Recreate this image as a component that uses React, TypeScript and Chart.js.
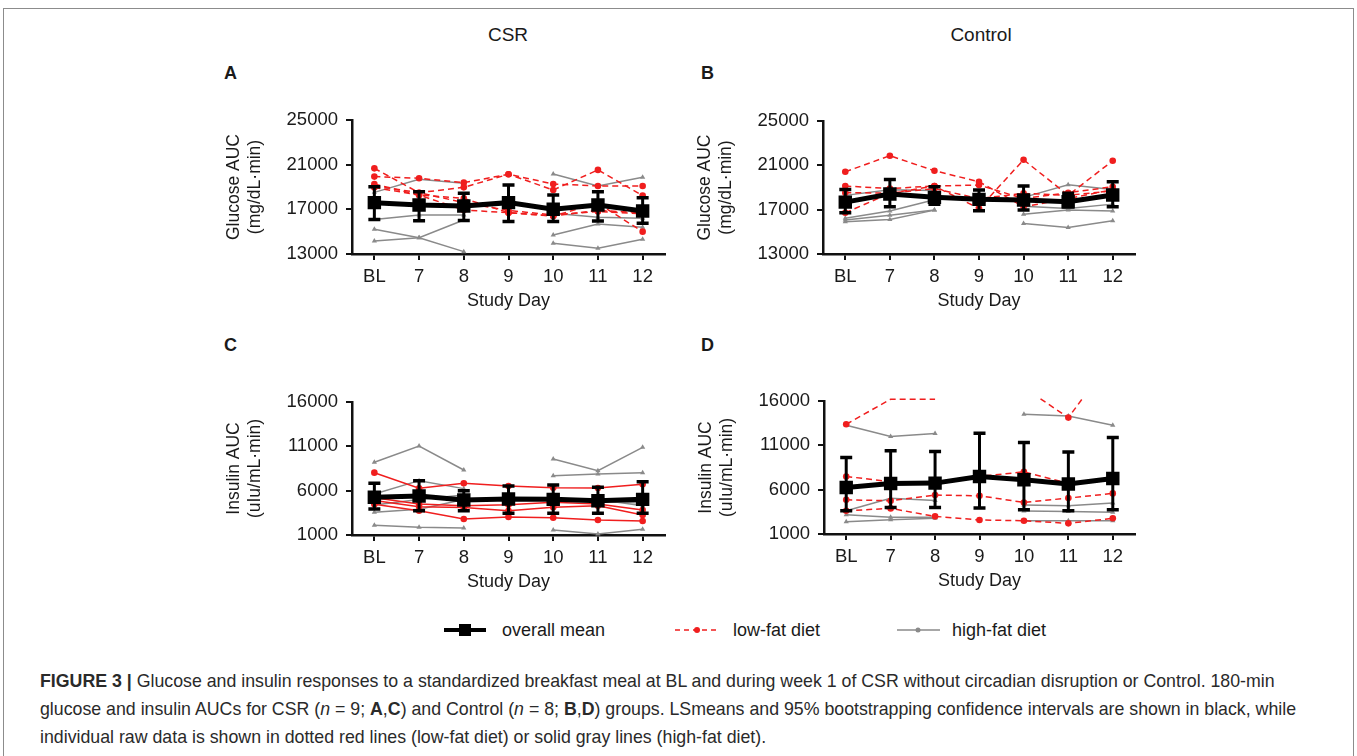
import React, { useEffect, useRef } from 'react';
import { Chart, registerables } from 'chart.js';

Chart.register(...registerables);

const FONT = '"Liberation Sans", Arial, Helvetica, sans-serif';
Chart.defaults.font.family = FONT;
Chart.defaults.color = '#1a1a1a';

const RED = '#f01e1e';
const GRAY = '#8a8a8a';
const INK = '#1a1a1a';

// ---------- shared categories / ticks ----------
const DAYS = ['BL', '7', '8', '9', '10', '11', '12'];
const GLUCOSE_TICKS = { min: 13000, max: 25000, step: 4000 };
const INSULIN_TICKS = { min: 1000, max: 16000, step: 5000 };

// ---------- Panel A: CSR glucose ----------
const csrGlucoseMean = [17600, 17390, 17300, 17600, 17000, 17390, 16850];
const csrGlucoseLower = [16100, 15980, 16000, 15900, 15900, 15960, 15750];
const csrGlucoseUpper = [19030, 18580, 18430, 19180, 18290, 18580, 18040];
const csrGlucoseLowFat1 = [20670, 18490, 18970, 20140, 18730, 20530, 18230];
const csrGlucoseLowFat2 = [19930, 19780, 19390, 20140, 19270, 19090, 19090];
const csrGlucoseLowFat3 = [19270, 18280, 17980, 16700, 16400, 17540, 15000];
const csrGlucoseLowFat4 = [19090, 18490, 17600, 16900, 16500, 16800, 16600];
const csrGlucoseLowFat5 = [18950, 18280, 16940, 16700, 16400, 16900, 16700];
const csrGlucoseHighFat1 = [18520, 19690, 19330, null, 20170, 19090, 19870];
const csrGlucoseHighFat2 = [16100, 16490, 16490, null, 16640, 16300, 16200];
const csrGlucoseHighFat3 = [14160, 14460, 16040, null, 14700, 15690, 15390];
const csrGlucoseHighFat4 = [15210, 14460, 13210, null, 13960, 13510, 14320];

// ---------- Panel B: Control glucose ----------
const ctlGlucoseMean = [17680, 18410, 18110, 17930, 17870, 17720, 18320];
const ctlGlucoseLower = [16720, 17260, 17500, 16900, 16960, 17260, 17260];
const ctlGlucoseUpper = [18830, 19720, 19070, 18770, 19130, 18470, 19520];
const ctlGlucoseLowFat1 = [20420, 21870, 20510, 19520, 17260, 18000, 18800];
const ctlGlucoseLowFat2 = [16720, 18470, 19130, 17110, 21500, 18300, 21410];
const ctlGlucoseLowFat3 = [19130, 18910, 19130, 19220, 18000, 18530, 19070];
const ctlGlucoseLowFat4 = [18530, 18500, 18900, 18000, 18470, 18300, 18700];
const ctlGlucoseHighFat1 = [18290, 18800, 18730, null, 18110, 19240, 18830];
const ctlGlucoseHighFat2 = [16220, 16880, 17900, null, 17300, 17100, 17500];
const ctlGlucoseHighFat3 = [16070, 16500, 16960, null, 16580, 16960, 16880];
const ctlGlucoseHighFat4 = [15920, 16110, 16960, null, 15750, 15390, 15990];

// ---------- Panel C: CSR insulin ----------
const csrInsulinMean = [5250, 5400, 4950, 5060, 5020, 4870, 5020];
const csrInsulinLower = [3930, 3740, 3740, 3450, 3450, 3450, 3450];
const csrInsulinUpper = [6830, 7130, 6000, 6530, 6640, 6380, 7010];
const csrInsulinLowFat1 = [8030, 6270, 6830, 6530, 6340, 6300, 6720];
const csrInsulinLowFat2 = [5200, 4500, 4300, 4400, 4700, 4500, 3820];
const csrInsulinLowFat3 = [4460, 3740, 2800, 3030, 2950, 2690, 2580];
const csrInsulinLowFat4 = [4900, 4200, 4100, 3740, 4120, 4300, 3260];
const csrInsulinHighFat1 = [9200, 11040, 8330, null, 9570, 8250, 10890];
const csrInsulinHighFat2 = [5620, 7130, 6230, null, 7690, 7880, 8030];
const csrInsulinHighFat3 = [4380, 5000, 5500, null, 5200, 4800, 4600];
const csrInsulinHighFat4 = [3560, 3900, 5000, null, 4900, 5000, 4300];
const csrInsulinHighFat5 = [2090, 1870, 1800, null, 1560, 1110, 1640];

// ---------- Panel D: Control insulin ----------
const ctlInsulinMean = [6250, 6700, 6740, 7490, 7110, 6630, 7260];
const ctlInsulinLower = [3620, 4000, 4000, 3930, 3740, 3620, 3740];
const ctlInsulinUpper = [9630, 10380, 10300, 12360, 11310, 10260, 11880];
const ctlInsulinLowFat1 = [13380, 16200, 16200, null, 17500, 14130, 20880];
const ctlInsulinLowFat2 = [7490, 6900, 6900, 7490, 8010, 6700, 7200];
const ctlInsulinLowFat3 = [4860, 4750, 5390, 5310, 4560, 5050, 5580];
const ctlInsulinLowFat4 = [3620, 3890, 2990, 2580, 2500, 2200, 2770];
const ctlInsulinHighFat1 = [13260, 11990, 12330, null, 14500, 14310, 13260];
const ctlInsulinHighFat2 = [3620, 5020, 4780, null, 4260, 4200, 4490];
const ctlInsulinHighFat3 = [3170, 2880, 2880, null, 3600, 3550, 3440];
const ctlInsulinHighFat4 = [2390, 2610, 2770, null, 2500, 2500, 2500];

type Series = (number | null)[];

interface PanelSpec {
  areaLeft: number;
  areaTop: number;
  areaRight: number;
  areaBottom: number;
  yRange: { min: number; max: number; step: number };
  yTitle: string[];
  mean: number[];
  lower: number[];
  upper: number[];
  lowFat: Series[];
  highFat: Series[];
  lowDashed: boolean;
}

const errorBarPlugin = {
  id: 'errorBars',
  afterDatasetsDraw(chart: any, _args: any, opts: any) {
    const lower: number[] = opts.lower || [];
    const upper: number[] = opts.upper || [];
    const xs = chart.scales.x;
    const ys = chart.scales.y;
    const ctx = chart.ctx;
    ctx.save();
    ctx.strokeStyle = '#000';
    lower.forEach((lo, i) => {
      const px = xs.getPixelForValue(i);
      const yl = ys.getPixelForValue(lo);
      const yu = ys.getPixelForValue(upper[i]);
      ctx.lineWidth = 3;
      ctx.beginPath();
      ctx.moveTo(px, yl);
      ctx.lineTo(px, yu);
      ctx.stroke();
      ctx.lineWidth = 3.5;
      ctx.beginPath();
      ctx.moveTo(px - 6, yl);
      ctx.lineTo(px + 6, yl);
      ctx.moveTo(px - 6, yu);
      ctx.lineTo(px + 6, yu);
      ctx.stroke();
    });
    ctx.restore();
  },
};

const Y_AXIS_W = 152;
const PAD_TOP = 20;
const PAD_RIGHT = 15;
const X_AXIS_H = 66;

function Panel({ spec }: { spec: PanelSpec }) {
  const ref = useRef<HTMLCanvasElement>(null);
  const cl = spec.areaLeft - Y_AXIS_W;
  const ct = spec.areaTop - PAD_TOP;
  const w = spec.areaRight - cl + PAD_RIGHT;
  const h = spec.areaBottom - ct + X_AXIS_H;

  useEffect(() => {
    if (!ref.current) return;
    const clipBox = { left: 8, top: 3, right: 8, bottom: 8 };
    const datasets: any[] = [
      {
        label: 'overall mean',
        data: spec.mean,
        borderColor: '#000',
        backgroundColor: '#000',
        borderWidth: 5,
        pointStyle: 'rect',
        pointRadius: 9.5,
        pointBorderWidth: 0,
        order: 0,
      },
      ...spec.lowFat.map((d) => ({
        label: 'low-fat diet',
        data: d,
        borderColor: RED,
        backgroundColor: RED,
        borderWidth: 1.5,
        borderDash: spec.lowDashed ? [6, 4] : [],
        pointStyle: 'circle',
        pointRadius: d.map((v) => (v !== null && v > spec.yRange.max ? 0 : 3.3)),
        pointBorderWidth: 0,
        spanGaps: false,
        clip: clipBox,
        order: 1,
      })),
      ...spec.highFat.map((d) => ({
        label: 'high-fat diet',
        data: d,
        borderColor: GRAY,
        backgroundColor: GRAY,
        borderWidth: 1.5,
        pointStyle: 'triangle',
        pointRadius: 3,
        pointBorderWidth: 0,
        spanGaps: false,
        clip: clipBox,
        order: 2,
      })),
    ];
    const axisGrid = {
      display: true,
      drawOnChartArea: false,
      drawTicks: true,
      tickLength: 6,
      color: '#111',
      tickColor: '#111',
      lineWidth: 2,
    };
    const axisBorder = { display: true, color: '#111', width: 2.5 };
    const chart = new Chart(ref.current, {
      type: 'line',
      data: { labels: DAYS, datasets },
      options: {
        responsive: false,
        maintainAspectRatio: false,
        animation: false,
        layout: { padding: { top: PAD_TOP, right: PAD_RIGHT, left: 0, bottom: 0 } },
        plugins: {
          legend: { display: false },
          tooltip: { enabled: false },
          errorBars: { lower: spec.lower, upper: spec.upper },
        } as any,
        scales: {
          x: {
            type: 'category',
            offset: true,
            grid: axisGrid,
            border: axisBorder,
            ticks: { font: { size: 18.5 }, color: INK, padding: 6, autoSkip: false, maxRotation: 0 },
            title: {
              display: true,
              text: 'Study Day',
              font: { size: 18 },
              color: INK,
              padding: { top: 0, bottom: 8 },
            },
            afterFit: (s: any) => {
              s.height = X_AXIS_H;
            },
          },
          y: {
            type: 'linear',
            min: spec.yRange.min,
            max: spec.yRange.max,
            grid: axisGrid,
            border: axisBorder,
            ticks: {
              stepSize: spec.yRange.step,
              font: { size: 18.5 },
              color: INK,
              padding: 8,
              callback: (v: any) => String(v),
            },
            title: {
              display: true,
              text: spec.yTitle,
              font: { size: 17.5, lineHeight: 1.18 },
              color: INK,
              padding: { top: 24, bottom: 0 },
            },
            afterFit: (s: any) => {
              s.width = Y_AXIS_W;
            },
          },
        } as any,
      },
      plugins: [errorBarPlugin],
    } as any);
    return () => chart.destroy();
  }, []);

  return (
    <canvas
      ref={ref}
      width={w}
      height={h}
      style={{ position: 'absolute', left: cl, top: ct, width: w, height: h }}
    />
  );
}

const panelA: PanelSpec = {
  areaLeft: 352, areaTop: 120, areaRight: 665, areaBottom: 254,
  yRange: GLUCOSE_TICKS,
  yTitle: ['Glucose AUC', '(mg/dL·min)'],
  mean: csrGlucoseMean, lower: csrGlucoseLower, upper: csrGlucoseUpper,
  lowFat: [csrGlucoseLowFat1, csrGlucoseLowFat2, csrGlucoseLowFat3, csrGlucoseLowFat4, csrGlucoseLowFat5],
  highFat: [csrGlucoseHighFat1, csrGlucoseHighFat2, csrGlucoseHighFat3, csrGlucoseHighFat4],
  lowDashed: true,
};
const panelB: PanelSpec = {
  areaLeft: 823, areaTop: 121, areaRight: 1135, areaBottom: 254,
  yRange: GLUCOSE_TICKS,
  yTitle: ['Glucose AUC', '(mg/dL·min)'],
  mean: ctlGlucoseMean, lower: ctlGlucoseLower, upper: ctlGlucoseUpper,
  lowFat: [ctlGlucoseLowFat1, ctlGlucoseLowFat2, ctlGlucoseLowFat3, ctlGlucoseLowFat4],
  highFat: [ctlGlucoseHighFat1, ctlGlucoseHighFat2, ctlGlucoseHighFat3, ctlGlucoseHighFat4],
  lowDashed: true,
};
const panelC: PanelSpec = {
  areaLeft: 352, areaTop: 402, areaRight: 665, areaBottom: 535,
  yRange: INSULIN_TICKS,
  yTitle: ['Insulin AUC', '(uIu/mL·min)'],
  mean: csrInsulinMean, lower: csrInsulinLower, upper: csrInsulinUpper,
  lowFat: [csrInsulinLowFat1, csrInsulinLowFat2, csrInsulinLowFat3, csrInsulinLowFat4],
  highFat: [csrInsulinHighFat1, csrInsulinHighFat2, csrInsulinHighFat3, csrInsulinHighFat4, csrInsulinHighFat5],
  lowDashed: false,
};
const panelD: PanelSpec = {
  areaLeft: 824, areaTop: 401, areaRight: 1135, areaBottom: 534,
  yRange: INSULIN_TICKS,
  yTitle: ['Insulin AUC', '(uIu/mL·min)'],
  mean: ctlInsulinMean, lower: ctlInsulinLower, upper: ctlInsulinUpper,
  lowFat: [ctlInsulinLowFat1, ctlInsulinLowFat2, ctlInsulinLowFat3, ctlInsulinLowFat4],
  highFat: [ctlInsulinHighFat1, ctlInsulinHighFat2, ctlInsulinHighFat3, ctlInsulinHighFat4],
  lowDashed: true,
};

function Text({ x, y, children, size = 18, bold = false, align = 'left' }: any) {
  const lh = 24;
  const style: React.CSSProperties = {
    position: 'absolute',
    top: y - lh / 2,
    lineHeight: lh + 'px',
    fontSize: size,
    fontWeight: bold ? 700 : 400,
    whiteSpace: 'nowrap',
    color: INK,
  };
  if (align === 'center') {
    style.left = x - 200;
    style.width = 400;
    style.textAlign = 'center';
  } else {
    style.left = x;
  }
  return <div style={style}>{children}</div>;
}

function CaptionLine({ y, children }: any) {
  return (
    <div
      style={{
        position: 'absolute',
        left: 40,
        top: y - 14,
        lineHeight: '28px',
        fontSize: 17.75,
        whiteSpace: 'nowrap',
        color: '#2a2a2a',
      }}
    >
      {children}
    </div>
  );
}

export default function App() {
  return (
    <div
      style={{
        position: 'absolute',
        left: 0,
        top: 0,
        width: 1357,
        height: 756,
        overflow: 'hidden',
        background: '#fff',
        fontFamily: FONT,
      }}
    >
      <div
        style={{
          position: 'absolute',
          left: 3,
          top: 8,
          width: 1349,
          height: 800,
          border: '1px solid #8c8c8c',
        }}
      />
      <Text x={508} y={35} size={19} align="center">CSR</Text>
      <Text x={981} y={35} size={19} align="center">Control</Text>
      <Text x={224} y={73} bold>A</Text>
      <Text x={701} y={73} bold>B</Text>
      <Text x={224} y={345} bold>C</Text>
      <Text x={701} y={345} bold>D</Text>

      <Panel spec={panelA} />
      <Panel spec={panelB} />
      <Panel spec={panelC} />
      <Panel spec={panelD} />

      <svg style={{ position: 'absolute', left: 0, top: 615 }} width={1357} height={30}>
        <line x1={444} y1={15} x2={486} y2={15} stroke="#000" strokeWidth={4} />
        <rect x={459} y={9} width={12} height={12} fill="#000" />
        <line x1={675} y1={15} x2={719} y2={15} stroke={RED} strokeWidth={1.5} strokeDasharray="5 4" />
        <circle cx={697} cy={15} r={3} fill={RED} />
        <line x1={897} y1={15} x2={940} y2={15} stroke={GRAY} strokeWidth={1.5} />
        <circle cx={918} cy={15} r={2.5} fill={GRAY} />
      </svg>
      <Text x={502} y={630}>overall mean</Text>
      <Text x={733} y={630}>low-fat diet</Text>
      <Text x={952} y={630}>high-fat diet</Text>

      <CaptionLine y={681}>
        <b>FIGURE 3 |</b> Glucose and insulin responses to a standardized breakfast meal at BL and during week 1 of CSR
        without circadian disruption or Control. 180-min
      </CaptionLine>
      <CaptionLine y={709}>
        glucose and insulin AUCs for CSR (<i>n</i> = 9; <b>A</b>,<b>C</b>) and Control (<i>n</i> = 8; <b>B</b>,
        <b>D</b>) groups. LSmeans and 95% bootstrapping confidence intervals are shown in black, while
      </CaptionLine>
      <CaptionLine y={737}>
        individual raw data is shown in dotted red lines (low-fat diet) or solid gray lines (high-fat diet).
      </CaptionLine>
    </div>
  );
}
